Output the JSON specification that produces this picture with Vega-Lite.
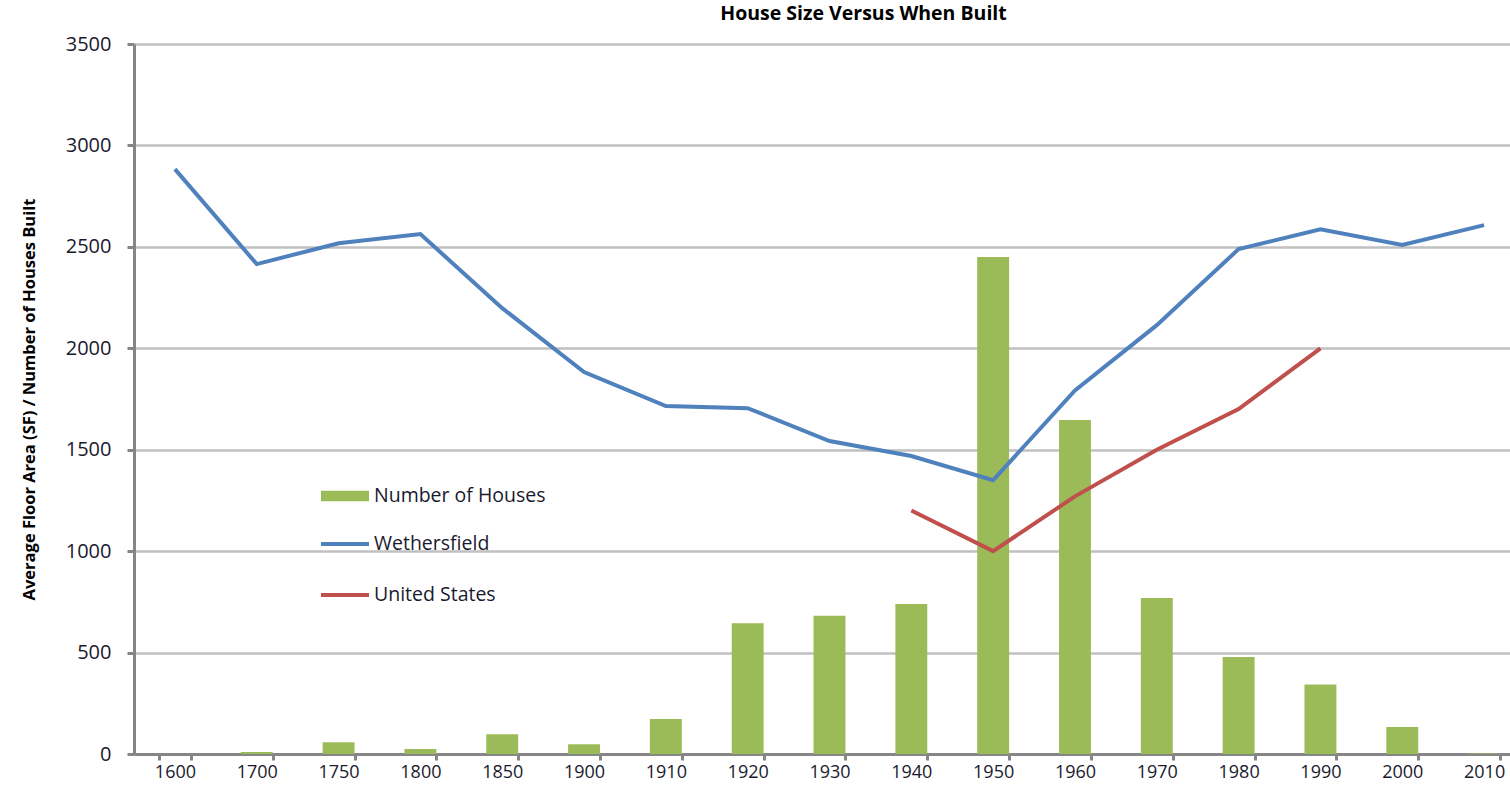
{
  "$schema": "https://vega.github.io/schema/vega-lite/v6.json",
  "width": 1391,
  "height": 710,
  "padding": {"left": 21, "top": 3, "right": 0, "bottom": 0},
  "background": "white",
  "config": {
    "font": "Open Sans",
    "view": {"stroke": null},
    "axis": {"labelFont": "Open Sans", "titleFont": "Open Sans"}
  },
  "title": {
    "text": "House Size Versus When Built",
    "fontSize": 19.5,
    "fontWeight": "bold",
    "font": "Open Sans",
    "color": "#000000",
    "anchor": "middle",
    "dx": 34,
    "offset": 10
  },
  "datasets": {
    "houses": [
      {"year": "1600", "houses": 0},
      {"year": "1700", "houses": 10},
      {"year": "1750", "houses": 58},
      {"year": "1800", "houses": 25},
      {"year": "1850", "houses": 97},
      {"year": "1900", "houses": 48},
      {"year": "1910", "houses": 172},
      {"year": "1920", "houses": 644},
      {"year": "1930", "houses": 682},
      {"year": "1940", "houses": 739},
      {"year": "1950", "houses": 2450},
      {"year": "1960", "houses": 1646},
      {"year": "1970", "houses": 769},
      {"year": "1980", "houses": 478},
      {"year": "1990", "houses": 342},
      {"year": "2000", "houses": 133},
      {"year": "2010", "houses": 3}
    ],
    "sizes": [
      {"year": "1600", "series": "Wethersfield", "area": 2883},
      {"year": "1700", "series": "Wethersfield", "area": 2415},
      {"year": "1750", "series": "Wethersfield", "area": 2518},
      {"year": "1800", "series": "Wethersfield", "area": 2563},
      {"year": "1850", "series": "Wethersfield", "area": 2198},
      {"year": "1900", "series": "Wethersfield", "area": 1883},
      {"year": "1910", "series": "Wethersfield", "area": 1715},
      {"year": "1920", "series": "Wethersfield", "area": 1705},
      {"year": "1930", "series": "Wethersfield", "area": 1543},
      {"year": "1940", "series": "Wethersfield", "area": 1469},
      {"year": "1950", "series": "Wethersfield", "area": 1350},
      {"year": "1960", "series": "Wethersfield", "area": 1792},
      {"year": "1970", "series": "Wethersfield", "area": 2114},
      {"year": "1980", "series": "Wethersfield", "area": 2489},
      {"year": "1990", "series": "Wethersfield", "area": 2587},
      {"year": "2000", "series": "Wethersfield", "area": 2509},
      {"year": "2010", "series": "Wethersfield", "area": 2607},
      {"year": "1940", "series": "United States", "area": 1200},
      {"year": "1950", "series": "United States", "area": 1000},
      {"year": "1960", "series": "United States", "area": 1270},
      {"year": "1970", "series": "United States", "area": 1500},
      {"year": "1980", "series": "United States", "area": 1700},
      {"year": "1990", "series": "United States", "area": 2000}
    ]
  },
  "encoding": {
    "x": {
      "field": "year",
      "type": "ordinal",
      "sort": ["1600","1700","1750","1800","1850","1900","1910","1920","1930","1940","1950","1960","1970","1980","1990","2000","2010"],
      "scale": {"paddingInner": 0.61, "paddingOuter": 0.305},
      "axis": {
        "title": null,
        "labelAngle": 0,
        "labelFontSize": 18,
        "labelColor": "#1a1a2e",
        "labelPadding": 3,
        "tickSize": 6,
        "tickWidth": 3,
        "tickColor": "#868686",
        "tickBand": "extent",
        "domainColor": "#868686",
        "domainWidth": 3,
        "grid": false
      }
    }
  },
  "layer": [
    {
      "data": {"name": "houses"},
      "mark": {"type": "bar", "fill": "#9BBB59"},
      "encoding": {
        "y": {
          "field": "houses",
          "type": "quantitative",
          "scale": {"domain": [0, 3500], "nice": false},
          "axis": {
            "title": "Average Floor Area (SF) / Number of Houses Built",
            "titleFontSize": 16.5,
            "titleFontWeight": "bold",
            "titleColor": "#000000",
            "titlePadding": 28,
            "values": [0, 500, 1000, 1500, 2000, 2500, 3000, 3500],
            "format": "d",
            "labelFontSize": 20,
            "labelColor": "#1a1a2e",
            "labelPadding": 16,
            "tickSize": 7,
            "tickWidth": 3,
            "tickColor": "#868686",
            "domainColor": "#868686",
            "domainWidth": 3,
            "gridColor": "#C0C0C0",
            "gridWidth": 2.5
          }
        },
        "fill": {
          "datum": "Number of Houses",
          "type": "nominal",
          "scale": {"domain": ["Number of Houses"], "range": ["#9BBB59"]},
          "legend": {
            "title": null,
            "orient": "none",
            "legendX": 187,
            "legendY": 428,
            "padding": 0,
            "symbolType": "M-1,-0.22L1,-0.22L1,0.22L-1,0.22Z",
            "symbolSize": 2304,
            "symbolStrokeWidth": 0,
            "labelFontSize": 19.5,
            "labelLimit": 400,
            "labelColor": "#1a1a2e",
            "labelOffset": 5
          }
        }
      }
    },
    {
      "data": {"name": "sizes"},
      "mark": {"type": "line", "strokeWidth": 4},
      "encoding": {
        "y": {"field": "area", "type": "quantitative"},
        "stroke": {
          "field": "series",
          "type": "nominal",
          "scale": {"domain": ["Wethersfield", "United States"], "range": ["#4F81BD", "#C0504D"]},
          "legend": {
            "title": null,
            "orient": "none",
            "legendX": 185,
            "legendY": 474,
            "padding": 0,
            "symbolType": "stroke",
            "symbolSize": 2304,
            "symbolStrokeWidth": 4,
            "rowPadding": 15,
            "labelFontSize": 19.5,
            "labelLimit": 400,
            "labelColor": "#1a1a2e",
            "labelOffset": 3
          }
        }
      }
    }
  ],
  "resolve": {"scale": {"y": "shared"}}
}
